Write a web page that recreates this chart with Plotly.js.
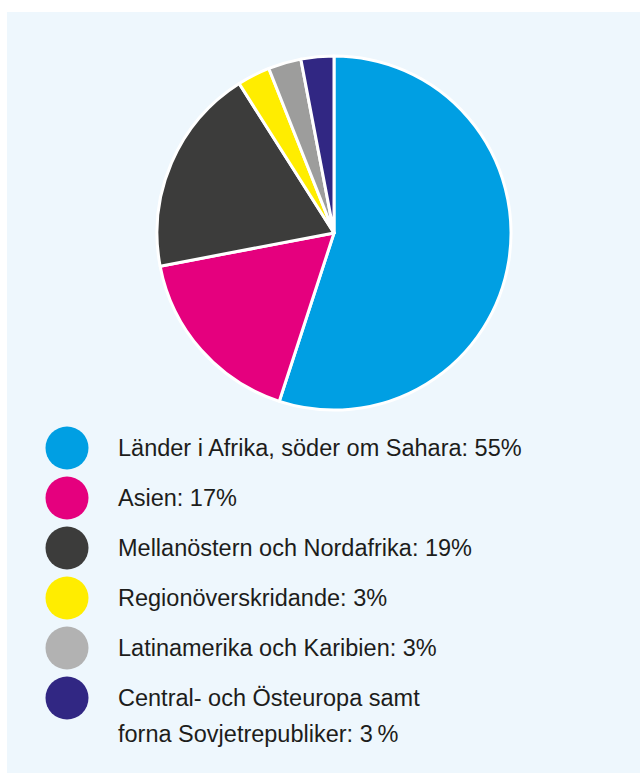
<!DOCTYPE html>
<html>
<head>
<meta charset="utf-8">
<script src="https://cdn.plot.ly/plotly-3.0.1.min.js"></script>
<style>html,body{margin:0;padding:0;background:#fff;}#chart{width:640px;height:773px;}</style>
</head>
<body>
<div id="chart"></div>
<script>
const categories = [
  "Länder i Afrika, söder om Sahara",
  "Asien",
  "Mellanöstern och Nordafrika",
  "Regionöverskridande",
  "Latinamerika och Karibien",
  "Central- och Östeuropa samt<br>forna Sovjetrepubliker"
];
const values = [55, 17, 19, 3, 3, 3];
const valueLabels = ["55%", "17%", "19%", "3%", "3%", "3\u2009%"];
const sliceColors = ["#009fe3", "#e5007e", "#3c3c3b", "#ffed00", "#9d9d9c", "#312783"];
const legendColors = ["#009fe3", "#e5007e", "#3c3c3b", "#ffed00", "#b2b2b2", "#312783"];

const W = 640, H = 773;
const legendX = 67, legendTextX = 116, legendY0 = 448, legendStep = 50, lineStep = 36;
const legendYs = categories.map((c, i) => legendY0 + i * legendStep);

const pie = {
  type: "pie",
  values: values,
  labels: categories,
  sort: false,
  direction: "clockwise",
  rotation: 0,
  marker: {colors: sliceColors, line: {color: "#ffffff", width: 3}},
  textinfo: "none",
  hoverinfo: "label+percent",
  showlegend: false,
  domain: {x: [(334 - 177) / W, (334 + 177) / W], y: [(H - 233 - 177) / H, (H - 233 + 177) / H]}
};

const legendMarkers = {
  type: "scatter",
  mode: "markers",
  x: categories.map(() => legendX),
  y: legendYs,
  marker: {size: 43, color: legendColors, line: {width: 0}},
  showlegend: false,
  hoverinfo: "skip",
  xaxis: "x", yaxis: "y"
};

const annotations = [];
categories.forEach((c, i) => {
  const lines = (c + ": " + valueLabels[i]).split("<br>");
  lines.forEach((ln, j) => {
    annotations.push({
      x: legendTextX, y: legendYs[i] + j * lineStep, xref: "x", yref: "y",
      xanchor: "left", yanchor: "middle",
      text: ln, showarrow: false, align: "left",
      font: {family: "Liberation Sans, Arial, sans-serif", size: 23.5, color: "#1d1d1b"}
    });
  });
});

const layout = {
  width: W, height: H,
  margin: {l: 0, r: 0, t: 0, b: 0},
  paper_bgcolor: "#ffffff",
  plot_bgcolor: "rgba(0,0,0,0)",
  xaxis: {range: [0, W], visible: false, fixedrange: true, domain: [0, 1]},
  yaxis: {range: [H, 0], visible: false, fixedrange: true, domain: [0, 1]},
  shapes: [{type: "rect", xref: "x", yref: "y", x0: 7, x1: W, y0: 12, y1: H, fillcolor: "#eef7fd", line: {width: 0}, layer: "below"}],
  annotations: annotations,
  showlegend: false
};

Plotly.newPlot("chart", [pie, legendMarkers], layout, {displayModeBar: false, staticPlot: true});
</script>
</body>
</html>
